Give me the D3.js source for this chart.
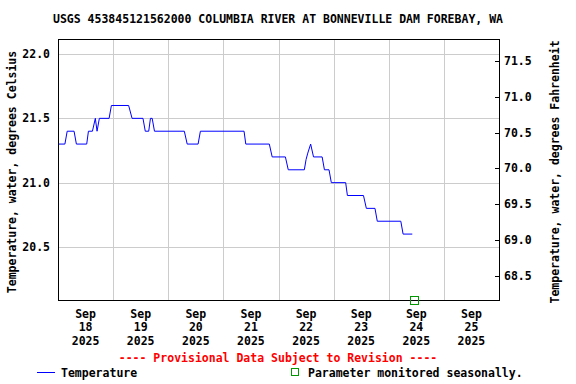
<!DOCTYPE html>
<html lang="en">
<head>
  <meta charset="UTF-8">
  <title>USGS 453845121562000</title>
  <script src="https://d3js.org/d3.v7.min.js"></script>
  <style>
    body { margin: 0; background: #fff; }
    text { font-family: "DejaVu Sans Mono", monospace; font-weight: bold; font-size: 11.5px; }
  </style>
</head>
<body>
<svg width="576" height="384"></svg>
<script>
  // readings (local time, deg C)
  const times = [
    "2025-09-18 00:00", "2025-09-18 03:00", "2025-09-18 04:00", "2025-09-18 07:00", "2025-09-18 08:00",
    "2025-09-18 12:30", "2025-09-18 13:15", "2025-09-18 15:00", "2025-09-18 16:15", "2025-09-18 17:00",
    "2025-09-18 18:00", "2025-09-18 22:15", "2025-09-18 23:15", "2025-09-19 06:45", "2025-09-19 08:15",
    "2025-09-19 13:00", "2025-09-19 14:00", "2025-09-19 15:30", "2025-09-19 16:15", "2025-09-19 17:00",
    "2025-09-19 18:00", "2025-09-20 07:00", "2025-09-20 08:15", "2025-09-20 13:00", "2025-09-20 14:00",
    "2025-09-21 09:00", "2025-09-21 09:45", "2025-09-21 20:00", "2025-09-21 21:15", "2025-09-22 03:00",
    "2025-09-22 04:15", "2025-09-22 11:15", "2025-09-22 12:00", "2025-09-22 12:45", "2025-09-22 14:00",
    "2025-09-22 15:15", "2025-09-22 19:00", "2025-09-22 20:00", "2025-09-22 22:00", "2025-09-22 23:00",
    "2025-09-23 05:15", "2025-09-23 06:00", "2025-09-23 13:00", "2025-09-23 14:15", "2025-09-23 18:00",
    "2025-09-23 19:00", "2025-09-24 05:15", "2025-09-24 06:15", "2025-09-24 10:15"
  ]
  const tempC = [
    21.3, 21.3, 21.4, 21.4, 21.3,
    21.3, 21.4, 21.4, 21.5, 21.4,
    21.5, 21.5, 21.6, 21.6, 21.5,
    21.5, 21.4, 21.4, 21.5, 21.5,
    21.4, 21.4, 21.3, 21.3, 21.4,
    21.4, 21.3, 21.3, 21.2, 21.2,
    21.1, 21.1, 21.18, 21.23, 21.3,
    21.2, 21.2, 21.1, 21.1, 21.0,
    21.0, 20.9, 20.9, 20.8, 20.8,
    20.7, 20.7, 20.6, 20.6
  ]
  const seasonalMark = "2025-09-24 11:00"
  const dayTicks = ["2025-09-18", "2025-09-19", "2025-09-20", "2025-09-21",
    "2025-09-22", "2025-09-23", "2025-09-24", "2025-09-25"]
  const celsiusTicks = [20.5, 21.0, 21.5, 22.0]
  const fahrenheitTicks = [68.5, 69.0, 69.5, 70.0, 70.5, 71.0, 71.5]

  const parseTime = d3.timeParse("%Y-%m-%d %H:%M")
  const parseDay = d3.timeParse("%Y-%m-%d")
  const data = times.map((t, i) => ({ t: parseTime(t), v: tempC[i] }))

  const pLeft = 58, pRight = 499, pTop = 39, pBottom = 300
  const cMin = 20.0875, cMax = 22.117

  const x = d3.scaleTime()
    .domain([parseDay("2025-09-18"), parseDay("2025-09-26")])
    .range([pLeft, pRight])
  const y = d3.scaleLinear().domain([cMin, cMax]).range([pBottom, pTop])
  const yF = d3.scaleLinear().domain([cMin * 9 / 5 + 32, cMax * 9 / 5 + 32]).range([pBottom, pTop])

  const svg = d3.select("svg")

  // title
  svg.append("text")
    .attr("x", 278).attr("y", 23)
    .attr("text-anchor", "middle")
    .text("USGS 453845121562000 COLUMBIA RIVER AT BONNEVILLE DAM FOREBAY, WA")

  // grid
  const grid = svg.append("g").attr("stroke", "#cccccc").attr("stroke-width", 1)
  grid.selectAll("line.h")
    .data(celsiusTicks)
    .join("line")
    .attr("class", "h")
    .attr("x1", pLeft).attr("x2", pRight)
    .attr("y1", d => Math.round(y(d)) + 0.5).attr("y2", d => Math.round(y(d)) + 0.5)
  grid.selectAll("line.v")
    .data(dayTicks.slice(1))
    .join("line")
    .attr("class", "v")
    .attr("y1", pTop).attr("y2", pBottom)
    .attr("x1", d => Math.round(x(parseDay(d))) + 0.5).attr("x2", d => Math.round(x(parseDay(d))) + 0.5)

  // temperature line
  const line = d3.line().x(d => x(d.t)).y(d => y(d.v))
  svg.append("path")
    .datum(data)
    .attr("fill", "none")
    .attr("stroke", "#0000ff")
    .attr("stroke-width", 1)
    .attr("d", line)

  // frame
  svg.append("rect")
    .attr("x", pLeft + 0.5).attr("y", pTop + 0.5)
    .attr("width", pRight - pLeft).attr("height", pBottom - pTop)
    .attr("fill", "none").attr("stroke", "#000")

  // left axis labels
  svg.append("g").selectAll("text")
    .data(celsiusTicks)
    .join("text")
    .attr("x", 50).attr("y", d => y(d) + 4)
    .attr("text-anchor", "end")
    .text(d => d3.format(".1f")(d))

  // right axis: ticks inside the frame, labels outside
  const rAxis = svg.append("g")
  rAxis.selectAll("line")
    .data(fahrenheitTicks)
    .join("line")
    .attr("x1", pRight - 4).attr("x2", pRight)
    .attr("y1", d => Math.round(yF(d)) + 0.5).attr("y2", d => Math.round(yF(d)) + 0.5)
    .attr("stroke", "#000")
  rAxis.selectAll("text")
    .data(fahrenheitTicks)
    .join("text")
    .attr("x", 504).attr("y", d => yF(d) + 4)
    .text(d => d3.format(".1f")(d))

  // x labels at noon of each day
  const fmtMon = d3.timeFormat("%b"), fmtDay = d3.timeFormat("%d"), fmtYear = d3.timeFormat("%Y")
  const xl = svg.append("g").selectAll("text")
    .data(dayTicks.map(parseDay))
    .join("text")
    .attr("text-anchor", "middle")
    .attr("transform", d => `translate(${x(d3.timeHour.offset(d, 12))},0)`)
  xl.append("tspan").attr("x", 0).attr("y", 318).text(fmtMon)
  xl.append("tspan").attr("x", 0).attr("y", 331).text(fmtDay)
  xl.append("tspan").attr("x", 0).attr("y", 344.5).text(fmtYear)

  // axis titles
  svg.append("text")
    .attr("transform", "translate(16,172) rotate(-90)")
    .attr("text-anchor", "middle")
    .text("Temperature, water, degrees Celsius")
  svg.append("text")
    .attr("transform", "translate(559,172) rotate(-90)")
    .attr("text-anchor", "middle")
    .text("Temperature, water, degrees Fahrenheit")

  // seasonal marker on the bottom axis
  const mx = x(parseTime(seasonalMark))
  svg.append("rect")
    .attr("x", Math.round(mx) - 4 + 0.5).attr("y", pBottom - 4 + 0.5)
    .attr("width", 8).attr("height", 8)
    .attr("fill", "none").attr("stroke", "#009900")

  // provisional note
  svg.append("text")
    .attr("x", 278).attr("y", 362)
    .attr("text-anchor", "middle")
    .attr("fill", "#ff0000")
    .text("---- Provisional Data Subject to Revision ----")

  // legend
  svg.append("line")
    .attr("x1", 37).attr("x2", 55).attr("y1", 372.5).attr("y2", 372.5)
    .attr("stroke", "#0000ff")
  svg.append("text").attr("x", 61).attr("y", 377).text("Temperature")
  svg.append("rect")
    .attr("x", 291.5).attr("y", 368.5).attr("width", 7).attr("height", 7)
    .attr("fill", "none").attr("stroke", "#009900")
  svg.append("text").attr("x", 308).attr("y", 377).text("Parameter monitored seasonally.")
</script>
</body>
</html>
